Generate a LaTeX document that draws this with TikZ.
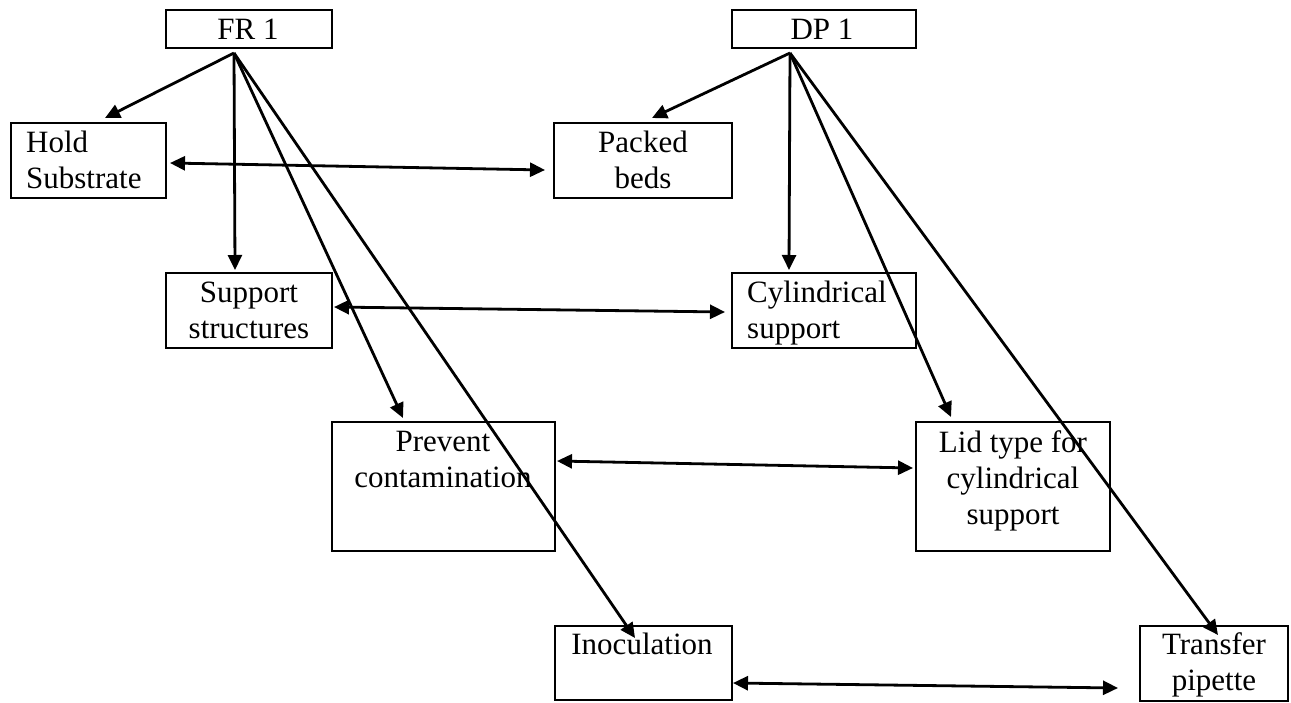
\documentclass[tikz,border=0pt]{standalone}
\usepackage{fontspec}
\setmainfont{Liberation Serif}
\usetikzlibrary{arrows.meta}
\begin{document}
\begin{tikzpicture}[x=1pt, y=-1pt,
  box/.style={draw, line width=2.8pt, inner sep=0pt, outer sep=0pt, anchor=north west},
  lbl/.style={inner sep=0pt, font=\fontsize{31}{36}\selectfont},
  arr/.style={line width=2.8pt, -{Triangle[length=15pt, width=14pt]}},
  dbl/.style={line width=2.8pt, {Triangle[length=15pt, width=14pt]}-{Triangle[length=15pt, width=14pt]}}]
\fill[white] (0,0) rectangle (1291,702);
\useasboundingbox (0,0) rectangle (1291,702);

% boxes
\node[box, minimum width=166pt, minimum height=38pt] (fr) at (166,10) {};
\node[box, minimum width=184pt, minimum height=38pt] (dp) at (732,10) {};
\node[box, minimum width=155pt, minimum height=75pt] (hold) at (11,123) {};
\node[box, minimum width=178pt, minimum height=75pt] (packed) at (554,123) {};
\node[box, minimum width=166pt, minimum height=75pt] (support) at (166,273) {};
\node[box, minimum width=184pt, minimum height=75pt] (cyl) at (732,273) {};
\node[box, minimum width=223pt, minimum height=129pt] (prevent) at (332,422) {};
\node[box, minimum width=194pt, minimum height=129pt] (lid) at (916,422) {};
\node[box, minimum width=177pt, minimum height=74pt] (inoc) at (555,626) {};
\node[box, minimum width=148pt, minimum height=75pt] (transfer) at (1140,626) {};

% labels (placed by the baseline of their last line)
\node[lbl, anchor=base] (frT) at (248,39) {FR 1};
\node[lbl, anchor=base] (dpT) at (822,39) {DP 1};
\node[lbl, anchor=base west, align=left] (holdT) at (26,188) {Hold\\Substrate};
\node[lbl, anchor=base, align=center] (packedT) at (643,188) {Packed\\beds};
\node[lbl, anchor=base, align=center] (supportT) at (249,338) {Support\\structures};
\node[lbl, anchor=base west, align=left] (cylT) at (747,338) {Cylindrical\\support};
\node[lbl, anchor=base, align=center] (preventT) at (443,487) {Prevent\\contamination};
\node[lbl, anchor=base, align=center] (lidT) at (1013,524) {Lid type for\\cylindrical\\support};
\node[lbl, anchor=base] (inocT) at (642,654) {Inoculation};
\node[lbl, anchor=base, align=center] (transferT) at (1214,690) {Transfer\\pipette};

% fan-out origins under the two top boxes
\coordinate (frOut) at ([shift={(-15,5)}]fr.south);
\coordinate (dpOut) at ([shift={(-34,5)}]dp.south);

% FR 1 branches
\draw[arr] (frOut) -- ([shift={(16.5,-5)}]hold.north);
\draw[arr] (frOut) -- ([shift={(-14,-3)}]support.north);
\draw[arr] (frOut) -- ([shift={(-40.5,-4)}]prevent.north);
\draw[arr] (frOut) -- ([shift={(-8.5,12)}]inoc.north);

% DP 1 branches
\draw[arr] (dpOut) -- ([shift={(9,-5)}]packed.north);
\draw[arr] (dpOut) -- ([shift={(-35,-3)}]cyl.north);
\draw[arr] (dpOut) -- ([shift={(-62,-5)}]lid.north);
\draw[arr] (dpOut) -- ([shift={(4,9)}]transfer.north);

% requirement <-> parameter links
\draw[dbl] ([shift={(4,2.5)}]hold.east) -- ([shift={(-9,9.5)}]packed.west);
\draw[dbl] ([shift={(2,-3.5)}]support.east) -- ([shift={(-7,1.5)}]cyl.west);
\draw[dbl] ([shift={(2,-25.5)}]prevent.east) -- ([shift={(-3,-18.5)}]lid.west);
\draw[dbl] ([shift={(1,20)}]inoc.east) -- ([shift={(-22,24.5)}]transfer.west);
\end{tikzpicture}
\end{document}
